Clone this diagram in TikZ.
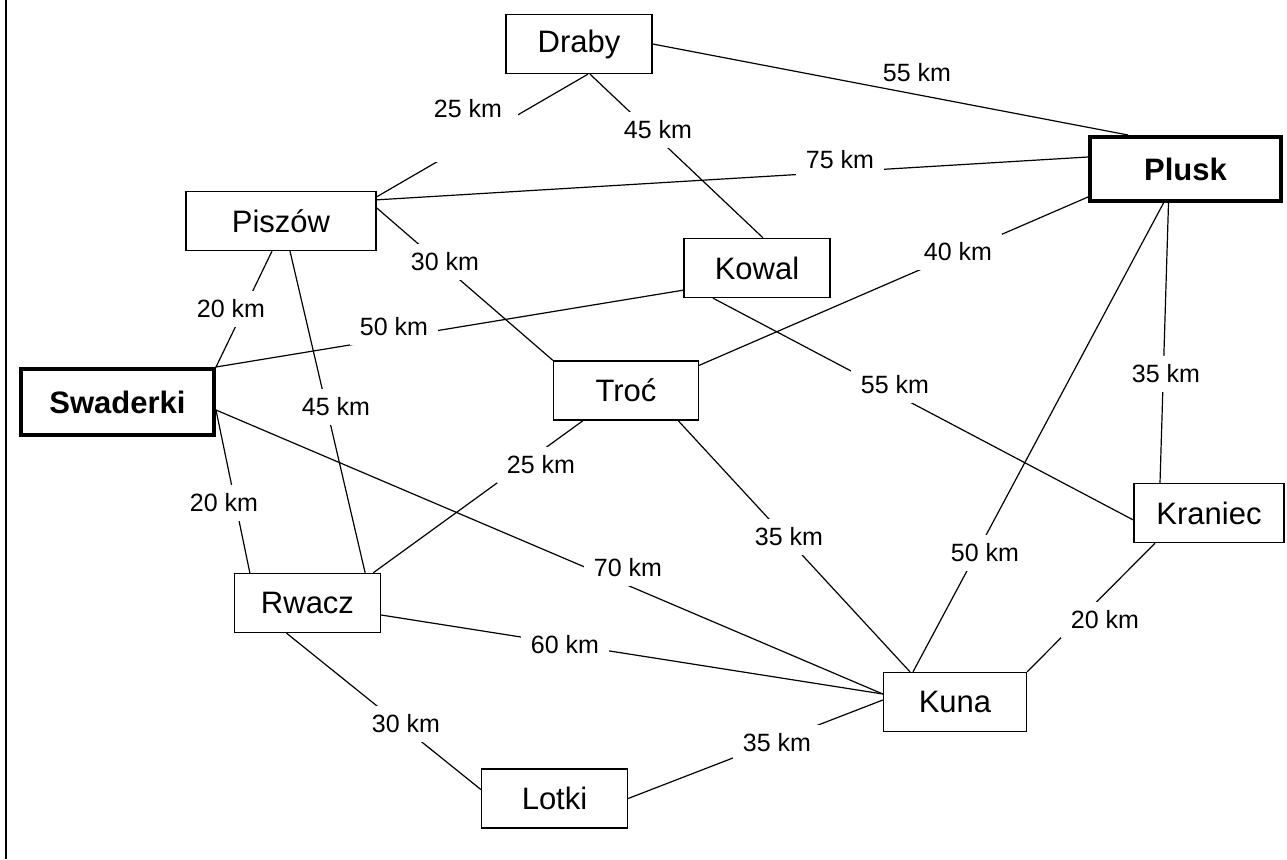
\documentclass[tikz,border=0pt]{standalone}
\usepackage{fontspec}
\setmainfont{Liberation Sans}
\usetikzlibrary{calc}

\begin{document}
\begin{tikzpicture}[x=1pt, y=-1pt,
    town/.style={draw, line width=1.3pt, fill=white, inner sep=0pt,
      minimum width=146pt, minimum height=59pt,
      font=\fontsize{31}{36}\selectfont},
    bigtown/.style={town, line width=4pt,
      font=\fontsize{31}{36}\selectfont\bfseries},
    road/.style={line width=1.2pt},
    km/.style={fill=white, inner xsep=10pt, inner ysep=9pt,
      font=\fontsize{25}{30}\selectfont}]
  \useasboundingbox (0,0) rectangle (1287,859);
  \draw[line width=2pt] (6,0) -- (6,859);

  % towns
  \node[town] (draby) at (579,44) {Draby};
  \node[town, minimum width=190pt] (pisz) at (281,221) {Piszów};
  \node[bigtown, minimum width=191pt, minimum height=64pt] (plusk) at (1185.5,169) {Plusk};
  \node[town] (kowal) at (757,268) {Kowal};
  \node[bigtown, minimum width=193pt, minimum height=66pt] (swad) at (117.5,402) {Swaderki};
  \node[town, minimum width=145pt] (troc) at (626,390.5) {Troć};
  \node[town, minimum width=150pt] (kran) at (1209,513) {Kraniec};
  \node[town] (rwacz) at (307.5,603) {Rwacz};
  \node[town, minimum width=143pt] (kuna) at (955,702) {Kuna};
  \node[town] (lotki) at (554.5,798.5) {Lotki};

  % roads
  \draw[road] (draby.east) -- ([xshift=40pt]plusk.north west);
  \draw[road] ([xshift=9pt]draby.south) -- ([yshift=-6pt]pisz.north east);
  \draw[road] ([xshift=11pt]draby.south) -- ([xshift=6pt]kowal.north);
  \draw[road] ([yshift=-9pt]pisz.north east) -- ([yshift=12pt]plusk.west);
  \draw[road] ([yshift=-17pt]pisz.north east) -- (troc.north west);
  \draw[road] ([xshift=-9pt]pisz.south) -- (swad.north east);
  \draw[road] ([xshift=9pt]pisz.south) -- ([xshift=-16pt]rwacz.north east);
  \draw[road] (swad.north east) -- ([yshift=8pt]kowal.south west);
  \draw[road] ([yshift=-8pt]swad.east) -- ([xshift=16pt]rwacz.north west);
  \draw[road] ([yshift=-8pt]swad.east) -- ([yshift=8pt]kuna.west);
  \draw[road] ([xshift=-8pt]rwacz.north east) -- ([xshift=-43pt]troc.south);
  \draw[road] ([yshift=-12pt]rwacz.east) -- ([yshift=8pt]kuna.west);
  \draw[road] ([xshift=-21pt]rwacz.south) -- ([yshift=9pt]lotki.west);
  \draw[road] ([yshift=-5pt]troc.north east) -- ([yshift=6pt]plusk.south west);
  \draw[road] ([xshift=-21pt]troc.south east) -- ([xshift=-45pt]kuna.north);
  \draw[road] ([xshift=-44pt]kowal.south) -- ([yshift=-7pt]kran.west);
  \draw[road] ([xshift=-22pt]plusk.south) -- ([xshift=-42pt]kuna.north);
  \draw[road] ([xshift=-17pt]plusk.south) -- ([xshift=-49pt]kran.north);
  \draw[road] ([xshift=-54pt]kran.south) -- (kuna.north east);
  \draw[road] ([yshift=2pt]kuna.west) -- (lotki.east);

  % distances
  \node[km, fill=none] (d-draby-plusk) at (917,73) {55 km};
  \node[km, anchor=north, text depth=36pt, inner xsep=16pt] (d-draby-pisz) at (468,90) {25 km};
  \node[km] (d-draby-kowal) at (658,130) {45 km};
  \node[km] (d-pisz-plusk) at (840,160) {75 km};
  \node[km] (d-pisz-troc) at (445,262) {30 km};
  \node[km] (d-troc-plusk) at (958,252) {40 km};
  \node[km] (d-pisz-swad) at (231,309) {20 km};
  \node[km] (d-swad-kowal) at (394,327) {50 km};
  \node[km] (d-pisz-rwacz) at (336,407) {45 km};
  \node[km] (d-kowal-kran) at (895,385) {55 km};
  \node[km] (d-plusk-kran) at (1166,374) {35 km};
  \node[km] (d-rwacz-troc) at (541,465) {25 km};
  \node[km] (d-swad-rwacz) at (224,503) {20 km};
  \node[km] (d-troc-kuna) at (789,537) {35 km};
  \node[km] (d-plusk-kuna) at (985,553) {50 km};
  \node[km] (d-swad-kuna) at (628,568) {70 km};
  \node[km] (d-kran-kuna) at (1105,620) {20 km};
  \node[km] (d-rwacz-kuna) at (565,645) {60 km};
  \node[km] (d-rwacz-lotki) at (406,724) {30 km};
  \node[km] (d-kuna-lotki) at (777,743) {35 km};
\end{tikzpicture}
\end{document}
